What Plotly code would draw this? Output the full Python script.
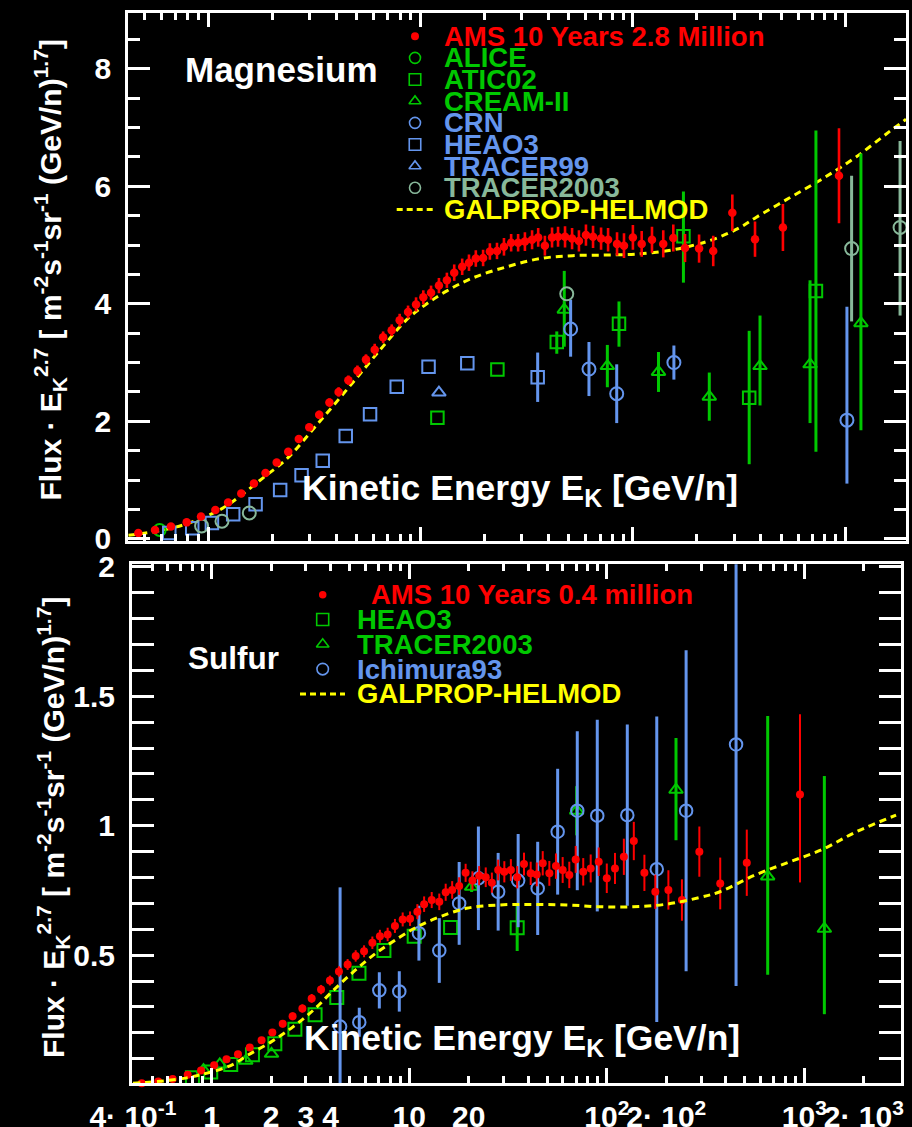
import plotly.graph_objects as go

W, H = 912, 1127
FONT = "Liberation Sans, Arial, Helvetica, sans-serif"

RED = "#ff0000"
GREEN = "#00c800"
BLUE = "#6495ed"
GREY = "#88b89a"
YELLOW = "#ffff00"

# ---------------- Magnesium ----------------
mg_ams_e = [0.468, 0.561, 0.667, 0.791, 0.924, 1.08, 1.24, 1.43, 1.64, 1.86,
            2.10, 2.38, 2.67, 2.99, 3.33, 3.72, 4.11, 4.57, 5.04, 5.53,
            6.08, 6.66, 7.31, 7.97, 8.73, 9.52, 10.3, 11.2, 12.2, 13.3,
            14.4, 15.7, 16.9, 18.2, 19.7, 21.2, 22.9, 24.7, 26.7, 28.8,
            31.0, 33.5, 35.8, 38.5, 41.6, 44.4, 47.9, 51.7, 55.7, 60.1,
            64.9, 70.8, 76.4, 84.2, 90.8, 100, 110, 123, 139, 155,
            176, 205, 239, 294, 376, 509, 935]
mg_ams_f = [0.10, 0.15, 0.21, 0.28, 0.38, 0.49, 0.62, 0.77, 0.94, 1.12,
            1.30, 1.48, 1.70, 1.90, 2.11, 2.32, 2.50, 2.70, 2.86, 3.05,
            3.22, 3.43, 3.55, 3.72, 3.86, 3.99, 4.11, 4.19, 4.31, 4.40,
            4.53, 4.63, 4.70, 4.77, 4.78, 4.89, 4.90, 4.97, 5.04, 5.04,
            5.06, 5.09, 5.13, 4.99, 5.13, 5.14, 5.14, 5.11, 5.07, 5.17,
            5.14, 5.11, 5.09, 5.02, 4.99, 5.13, 5.02, 5.09, 5.02, 5.12,
            4.95, 4.94, 4.90, 5.55, 5.10, 5.30, 6.18]
mg_ams_err = [0.01, 0.01, 0.015, 0.02, 0.02, 0.025, 0.03, 0.03, 0.04, 0.04,
              0.05, 0.05, 0.06, 0.06, 0.07, 0.07, 0.08, 0.08, 0.09, 0.09,
              0.10, 0.10, 0.10, 0.11, 0.11, 0.12, 0.12, 0.12, 0.13, 0.13,
              0.14, 0.14, 0.14, 0.14, 0.14, 0.14, 0.14, 0.15, 0.15, 0.15,
              0.16, 0.16, 0.16, 0.17, 0.17, 0.17, 0.18, 0.18, 0.18, 0.18,
              0.19, 0.19, 0.20, 0.20, 0.21, 0.21, 0.22, 0.22, 0.23, 0.23,
              0.24, 0.24, 0.26, 0.31, 0.30, 0.40, 0.81]

mg_alice_e = [0.59]
mg_alice_f = [0.15]

mg_atic_e = [12.0, 23.0, 43.8, 86.0, 173, 353, 728]
mg_atic_f = [2.06, 2.88, 3.35, 3.66, 5.15, 2.40, 4.22]
mg_atic_err_up = [0.0, 0.0, 0.18, 0.38, 0.76, 1.14, 2.73]
mg_atic_err_dn = [0.0, 0.0, 0.20, 0.39, 0.79, 1.13, 2.74]

mg_cream_e = [47.5, 75.8, 132, 229, 397, 683, 1186]
mg_cream_f = [3.90, 2.94, 2.84, 2.42, 2.94, 2.97, 3.67]
mg_cream_err_up = [0.66, 0.36, 0.34, 0.41, 0.86, 1.43, 2.89]
mg_cream_err_dn = [0.63, 0.36, 0.34, 0.41, 0.67, 1.00, 1.82]

mg_crn_e = [50.9, 62.1, 83.9, 156, 1019]
mg_crn_f = [3.57, 2.89, 2.47, 3.00, 2.02]
mg_crn_err_up = [0.50, 0.46, 0.50, 0.29, 1.93]
mg_crn_err_dn = [0.47, 0.46, 0.50, 0.29, 1.08]

mg_heao_e = [0.655, 0.84, 1.04, 1.31, 1.67, 2.18, 2.75, 3.46, 4.44, 5.78,
             7.72, 10.9, 16.6, 35.6]
mg_heao_f = [0.10, 0.18, 0.27, 0.42, 0.59, 0.83, 1.08, 1.33, 1.75, 2.12,
             2.59, 2.93, 2.99, 2.75]
mg_heao_err = [0.0] * 13 + [0.42]

mg_tracer99_e = [12.2]
mg_tracer99_f = [2.49]

mg_tracer03_e = [0.93, 1.16, 1.56, 48.8, 1072, 1813]
mg_tracer03_f = [0.22, 0.30, 0.44, 4.17, 4.94, 5.30]
mg_tracer03_err_up = [0.0, 0.0, 0.0, 0.0, 1.24, 1.47]
mg_tracer03_err_dn = [0.0, 0.0, 0.0, 0.0, 1.24, 1.50]

mg_model_e = [0.42, 0.55, 0.65, 0.77, 0.9, 1.06, 1.23, 1.41, 1.8, 2.34,
              3.3, 4.82, 6.67, 8.6, 10.5, 13.3, 17.6, 25.5, 36.5, 52,
              75.5, 108, 155, 185, 223, 265, 320, 380, 545, 783,
              1125, 1614, 1933]
mg_model_f = [0.06, 0.117, 0.17, 0.24, 0.33, 0.44, 0.57, 0.725, 1.03, 1.36,
              1.97, 2.67, 3.28, 3.73, 3.98, 4.22, 4.44, 4.63, 4.77, 4.82,
              4.83, 4.85, 4.92, 4.98, 5.06, 5.16, 5.30, 5.47, 5.80, 6.13,
              6.50, 6.93, 7.14]

# ---------------- Sulfur ----------------
s_ams_e = [0.443, 0.537, 0.635, 0.757, 0.884, 1.03, 1.19, 1.36, 1.56, 1.79,
           2.03, 2.29, 2.57, 2.88, 3.21, 3.58, 3.97, 4.41, 4.88, 5.36,
           5.91, 6.51, 7.11, 7.78, 8.47, 9.27, 10.1, 11.0, 11.9, 13.0,
           14.2, 15.3, 16.5, 17.9, 19.3, 20.9, 22.6, 24.4, 26.2, 28.2,
           30.3, 32.7, 35.2, 38.1, 41.2, 44.2, 47.4, 51.2, 55.3, 59.8,
           64.6, 69.6, 76.0, 82.9, 91.0, 100, 110, 122, 137, 155,
           176, 205, 240, 294, 375, 511, 950]
s_ams_f = [0.005, 0.012, 0.022, 0.038, 0.054, 0.075, 0.098, 0.117, 0.143, 0.171,
           0.201, 0.235, 0.264, 0.294, 0.333, 0.367, 0.402, 0.437, 0.464, 0.497,
           0.515, 0.548, 0.573, 0.580, 0.613, 0.638, 0.641, 0.668, 0.697, 0.713,
           0.706, 0.743, 0.752, 0.767, 0.818, 0.788, 0.807, 0.801, 0.780, 0.829,
           0.822, 0.829, 0.801, 0.852, 0.816, 0.812, 0.855, 0.816, 0.844, 0.829,
           0.810, 0.870, 0.822, 0.835, 0.861, 0.797, 0.835, 0.880, 0.941, 0.818,
           0.745, 0.752, 0.713, 0.900, 0.777, 0.857, 1.121]
s_ams_err_up = [0.004, 0.005, 0.005, 0.006, 0.007, 0.008, 0.009, 0.010, 0.011, 0.012,
                0.013, 0.014, 0.015, 0.016, 0.017, 0.018, 0.019, 0.020, 0.021, 0.022,
                0.023, 0.024, 0.025, 0.026, 0.027, 0.027, 0.028, 0.029, 0.030, 0.031,
                0.032, 0.033, 0.034, 0.034, 0.035, 0.036, 0.037, 0.038, 0.039, 0.040,
                0.041, 0.042, 0.043, 0.044, 0.045, 0.046, 0.047, 0.048, 0.049, 0.050,
                0.051, 0.052, 0.053, 0.054, 0.055, 0.057, 0.060, 0.070, 0.074, 0.070,
                0.066, 0.076, 0.080, 0.097, 0.100, 0.128, 0.310]
s_ams_err_dn = s_ams_err_up[:-1] + [0.340]

s_heao_e = [0.80, 0.99, 1.25, 1.61, 2.09, 2.64, 3.34, 4.30, 5.57, 7.45,
            10.6, 16.2, 35.2]
s_heao_f = [0.026, 0.049, 0.078, 0.115, 0.158, 0.214, 0.270, 0.336, 0.430, 0.518,
            0.573, 0.607, 0.606]
s_heao_err = [0.0] * 12 + [0.09]

s_tracer03_e = [0.91, 1.10, 1.49, 2.01, 20.7, 70.4, 224, 652, 1262]
s_tracer03_f = [0.056, 0.078, 0.092, 0.119, 0.764, 1.058, 1.139, 0.804, 0.602]
s_tracer03_err_up = [0.0, 0.0, 0.0, 0.0, 0.02, 0.095, 0.200, 0.62, 0.59]
s_tracer03_err_dn = [0.0, 0.0, 0.0, 0.0, 0.02, 0.095, 0.195, 0.38, 0.33]

s_ichi_e = [4.47, 5.59, 7.06, 8.91, 11.2, 14.2, 17.9, 22.4, 28.2, 35.6,
            44.7, 56.4, 70.9, 89.5, 127, 179, 252, 451]
s_ichi_f = [0.224, 0.241, 0.364, 0.360, 0.585, 0.518, 0.700, 0.797, 0.745, 0.788,
            0.758, 0.977, 1.058, 1.039, 1.041, 0.832, 1.058, 1.314]
s_ichi_err_up = [0.538, 0.056, 0.070, 0.078, 0.106, 0.125, 0.160, 0.200, 0.150, 0.180,
                 0.180, 0.243, 0.307, 0.370, 0.350, 0.590, 0.620, 0.930]
s_ichi_err_dn = [0.300, 0.056, 0.070, 0.078, 0.106, 0.125, 0.160, 0.200, 0.150, 0.180,
                 0.180, 0.243, 0.307, 0.370, 0.350, 0.590, 0.620, 0.933]

s_model_e = [0.40, 0.5, 0.6, 0.748, 0.9, 1.1, 1.3, 1.51, 2.0, 2.59,
             3.3, 4.13, 5.3, 6.85, 8.98, 10.7, 13.2, 19.5, 28.8, 42.5,
             62.7, 92.4, 136, 201, 296, 374, 569, 839, 1238, 1824, 2910]
s_model_f = [0.005, 0.010, 0.016, 0.026, 0.040, 0.058, 0.080, 0.112, 0.165, 0.224,
             0.290, 0.364, 0.440, 0.510, 0.570, 0.605, 0.638, 0.681, 0.694, 0.696,
             0.694, 0.687, 0.687, 0.697, 0.723, 0.745, 0.811, 0.860, 0.909, 0.976, 1.041]

# bottom axis labels
x_label_vals = [0.4, 1, 2, 3, 4, 10, 20, 100, 200, 1000, 2000]
x_label_text = ["4\u00b7 10<sup>-1</sup>", "1", "2", "3", "4", "10", "20",
                "10<sup>2</sup>", "2\u00b7 10<sup>2</sup>",
                "10<sup>3</sup>", "2\u00b7 10<sup>3</sup>"]

mg_legend = [("AMS 10 Years 2.8 Million", RED), ("ALICE", GREEN), ("ATIC02", GREEN),
             ("CREAM-II", GREEN), ("CRN", BLUE), ("HEAO3", BLUE), ("TRACER99", BLUE),
             ("TRACER2003", GREY), ("GALPROP-HELMOD", YELLOW)]
s_legend = [("AMS 10 Years 0.4 million", RED), ("HEAO3", GREEN), ("TRACER2003", GREEN),
            ("Ichimura93", BLUE), ("GALPROP-HELMOD", YELLOW)]


def fx(p):
    return p / W


def fy(p):
    return 1 - p / H


def minor_vals(lo, hi, skip=()):
    out = []
    for d in range(-1, 4):
        for m in range(2, 10):
            v = m * 10 ** d
            if lo < v < hi and v not in skip:
                out.append(v)
    return out


fig = go.Figure()


def data_trace(xs, ys, err_up, err_dn, color, symbol, size, xa, ya, lw=2, ew=3, clip=True):
    kw = {}
    if err_up is not None:
        kw["error_y"] = dict(type="data", symmetric=False, array=err_up,
                             arrayminus=err_dn if err_dn is not None else err_up,
                             visible=True, color=color, thickness=ew, width=0)
    fig.add_trace(go.Scatter(
        x=xs, y=ys, mode="markers", xaxis=xa, yaxis=ya, showlegend=False,
        cliponaxis=clip,
        marker=dict(symbol=symbol, size=size, color=color,
                    line=dict(color=color, width=lw)),
        **kw))


def model_trace(xs, ys, xa, ya):
    fig.add_trace(go.Scatter(
        x=xs, y=ys, mode="lines", xaxis=xa, yaxis=ya, showlegend=False,
        line=dict(color=YELLOW, width=3, dash="7px,5px", shape="spline")))


# Magnesium panel
model_trace(mg_model_e, mg_model_f, "x", "y")
data_trace(mg_alice_e, mg_alice_f, None, None, GREEN, "circle-open", 12, "x", "y")
data_trace(mg_atic_e, mg_atic_f, mg_atic_err_up, mg_atic_err_dn, GREEN, "square-open", 12.5, "x", "y")
data_trace(mg_cream_e, mg_cream_f, mg_cream_err_up, mg_cream_err_dn, GREEN, "triangle-up-open", 12, "x", "y")
data_trace(mg_crn_e, mg_crn_f, mg_crn_err_up, mg_crn_err_dn, BLUE, "circle-open", 13, "x", "y")
data_trace(mg_heao_e, mg_heao_f, mg_heao_err, None, BLUE, "square-open", 12.5, "x", "y")
data_trace(mg_tracer99_e, mg_tracer99_f, None, None, BLUE, "triangle-up-open", 12, "x", "y")
data_trace(mg_tracer03_e, mg_tracer03_f, mg_tracer03_err_up, mg_tracer03_err_dn, GREY,
           "circle-open", 13, "x", "y")
data_trace(mg_ams_e, mg_ams_f, mg_ams_err, None, RED, "circle", 8.5, "x", "y",
           lw=0, ew=2.6, clip=False)

# Sulfur panel
model_trace(s_model_e, s_model_f, "x3", "y2")
data_trace(s_heao_e, s_heao_f, s_heao_err, None, GREEN, "square-open", 13, "x2", "y2")
data_trace(s_tracer03_e, s_tracer03_f, s_tracer03_err_up, s_tracer03_err_dn, GREEN,
           "triangle-up-open", 12, "x2", "y2")
data_trace(s_ichi_e, s_ichi_f, s_ichi_err_up, s_ichi_err_dn, BLUE, "circle-open", 12.5, "x2", "y2")
data_trace(s_ams_e, s_ams_f, s_ams_err_up, s_ams_err_dn, RED, "circle", 8, "x2", "y2",
           lw=0, ew=2, clip=False)

# legend keys, drawn on a full-figure pixel overlay
MG_KEY_X, MG_ROW0, MG_DY = 415, 36.2, 21.66
S_KEY_X, S_ROW0, S_DY = 322.7, 594.7, 24.8
mg_keys = [("circle", RED, 8, 0), ("circle-open", GREEN, 11, 1.6),
           ("square-open", GREEN, 11.5, 1.6), ("triangle-up-open", GREEN, 10.5, 1.6),
           ("circle-open", BLUE, 11, 1.6), ("square-open", BLUE, 11.5, 1.6),
           ("triangle-up-open", BLUE, 10.5, 1.6), ("circle-open", GREY, 11, 1.6)]
s_keys = [("circle", RED, 7.5, 0), ("square-open", GREEN, 12, 1.6),
          ("triangle-up-open", GREEN, 11, 1.6), ("circle-open", BLUE, 11.5, 1.6)]
for key_x, row0, dy, keys in ((MG_KEY_X, MG_ROW0, MG_DY, mg_keys),
                              (S_KEY_X, S_ROW0, S_DY, s_keys)):
    for i, (sym, col, sz, lw) in enumerate(keys):
        fig.add_trace(go.Scatter(
            x=[key_x], y=[row0 + i * dy], mode="markers", xaxis="x4", yaxis="y4",
            showlegend=False, hoverinfo="skip", cliponaxis=False,
            marker=dict(symbol=sym, size=sz, color=col, line=dict(color=col, width=lw))))
for (x0, x1, yy) in ((396.7, 433.3, MG_ROW0 + 8 * MG_DY), (300, 345, S_ROW0 + 4 * S_DY)):
    fig.add_trace(go.Scatter(
        x=[x0, x1], y=[yy, yy], mode="lines", xaxis="x4", yaxis="y4",
        showlegend=False, hoverinfo="skip",
        line=dict(color=YELLOW, width=3, dash="6px,4px")))

tick_font = dict(family=FONT, size=30, color="white", weight="bold")
axis_common = dict(showline=True, linecolor="white", linewidth=3, showgrid=False,
                   zeroline=False, ticks="inside", tickcolor="white", tickwidth=2.5,
                   mirror="allticks", tickfont=tick_font, automargin=False,
                   tickangle=0)

TOP_X = (128.3, 906.0)
TOP_Y = (12.5, 541.0)
BOT_X = (132.0, 901.0)
BOT_Y = (564.3, 1083.3)
top_xr = [-0.3768, 3.2864]
bot_xr = [-0.4028, 3.4889]

fig.update_layout(
    template="none",
    width=W, height=H, margin=dict(l=0, r=0, t=0, b=0, pad=0),
    paper_bgcolor="black", plot_bgcolor="rgba(0,0,0,0)",
    showlegend=False,
    xaxis=dict(axis_common, type="log", range=top_xr, anchor="y",
               domain=[fx(TOP_X[0]), fx(TOP_X[1])],
               tickvals=[1, 10, 100, 1000], ticklen=14, showticklabels=False,
               minor=dict(tickvals=minor_vals(0.41, 1950), ticks="inside", ticklen=7,
                          tickwidth=2.5, tickcolor="white")),
    yaxis=dict(axis_common, range=[-0.037, 8.958], anchor="x",
               domain=[fy(TOP_Y[1]), fy(TOP_Y[0])],
               tickvals=[0, 2, 4, 6, 8], ticklen=22, ticklabelstandoff=8,
               minor=dict(dtick=0.5, tick0=0, ticks="inside", ticklen=12,
                          tickwidth=2.5, tickcolor="white")),
    xaxis2=dict(axis_common, type="log", range=bot_xr, anchor="y2",
                domain=[fx(BOT_X[0]), fx(BOT_X[1])],
                tickvals=x_label_vals, ticktext=x_label_text, ticklen=7,
                ticklabelstandoff=5,
                minor=dict(tickvals=minor_vals(0.41, 3000, skip=(2, 3, 4, 20, 200, 2000)),
                           ticks="inside", ticklen=7, tickwidth=2.5, tickcolor="white")),
    xaxis3=dict(type="log", range=bot_xr, anchor="y2", overlaying="x2",
                showline=False, showgrid=False, zeroline=False, automargin=False,
                ticks="inside", ticklen=15, tickwidth=2.5, tickcolor="white",
                mirror="ticks", tickvals=[1, 10, 100, 1000], showticklabels=False),
    yaxis2=dict(axis_common, range=[0.005, 2.010], anchor="x2",
                domain=[fy(BOT_Y[1]), fy(BOT_Y[0])],
                tickvals=[0.5, 1, 1.5, 2], ticktext=["0.5", "1", "1.5", "2"],
                ticklen=22, ticklabelstandoff=8,
                minor=dict(dtick=0.1, tick0=0, ticks="inside", ticklen=12,
                           tickwidth=2.5, tickcolor="white")),
    xaxis4=dict(domain=[0, 1], range=[0, W], visible=False, anchor="y4",
                automargin=False),
    yaxis4=dict(domain=[0, 1], range=[H, 0], visible=False, anchor="x4",
                automargin=False),
)

ann = []


def label(text, x, y, size, color="white", xanchor="left", angle=0):
    ann.append(dict(text=text, x=fx(x), y=fy(y), xref="paper", yref="paper",
                    xanchor=xanchor, yanchor="middle", showarrow=False,
                    textangle=angle,
                    font=dict(family=FONT, size=size, color=color, weight="bold")))


label("Magnesium", 182.7, 69.7, 35)
label("Sulfur", 186, 658.3, 31.5)
x_title = "Kinetic Energy E<sub>K</sub> [GeV/n]"
label(x_title, 300, 490, 35.5)
label(x_title, 301.7, 1039.5, 35.5)
y_title = ("Flux \u00b7 E<sub>K</sub><sup>2.7</sup> [ m<sup>-2</sup>s<sup>-1</sup>"
           "sr<sup>-1</sup> (GeV/n)<sup>1.7</sup>]")
label(y_title, 50, 270.5, 30, xanchor="center", angle=-90)
label(y_title, 53, 828, 30, xanchor="center", angle=-90)

for i, (txt, col) in enumerate(mg_legend):
    label(txt, 441.7, MG_ROW0 + i * MG_DY, 27.5, color=col)
for i, (txt, col) in enumerate(s_legend):
    label(txt, 369 if i == 0 else 355, S_ROW0 + i * S_DY, 27.5, color=col)

fig.update_layout(annotations=ann)
fig.write_html("out.html")
